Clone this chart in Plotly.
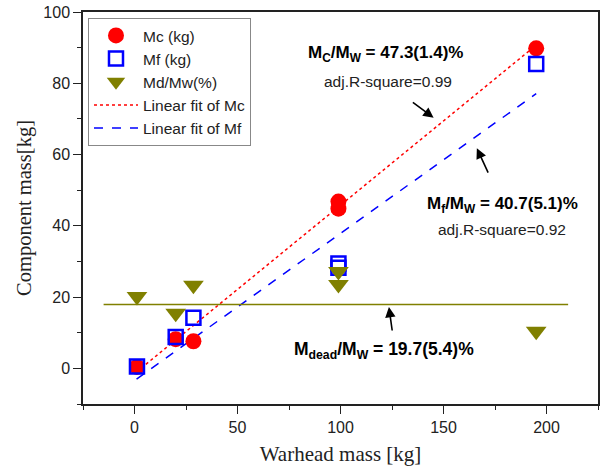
import plotly.graph_objects as go

# Data
warhead = [1.2, 20.0, 28.6, 99.0, 99.0, 195.0]
mc = [0.4, 8.2, 7.6, 46.8, 44.8, 89.8]
mf = [0.5, 8.8, 14.2, 29.4, 28.2, 85.4]
md_mw = [20.2, 15.5, 23.3, 27.2, 23.5, 10.4]

fit_x = [1.0, 195.0]
fit_mc = [-1.0, 90.7]
fit_mf = [-3.0, 77.1]
dead_x = [-15.0, 210.5]
dead_y = [17.9, 17.9]

RED = "#FF0000"
BLUE = "#0000FF"
OLIVE = "#808000"

fig = go.Figure()
fig.add_trace(go.Scatter(x=fit_x, y=fit_mc, mode="lines", name="Linear fit of Mc",
                         line=dict(color=RED, dash="dot", width=1.5), legendgroup="d", legendrank=4))
fig.add_trace(go.Scatter(x=fit_x, y=fit_mf, mode="lines", name="Linear fit of Mf",
                         line=dict(color=BLUE, dash="dash", width=1.5), legendgroup="e", legendrank=5))
fig.add_trace(go.Scatter(x=dead_x, y=dead_y, mode="lines", showlegend=False,
                         line=dict(color=OLIVE, width=1.5)))
fig.add_trace(go.Scatter(x=warhead, y=mc, mode="markers", name="Mc (kg)",
                         marker=dict(symbol="circle", size=16, color=RED, line=dict(width=0)),
                         legendgroup="a", legendrank=1))
fig.add_trace(go.Scatter(x=warhead, y=mf, mode="markers", name="Mf (kg)",
                         marker=dict(symbol="square-open", size=14, color=BLUE, line=dict(width=2.5, color=BLUE)),
                         legendgroup="b", legendrank=2))
fig.add_trace(go.Scatter(x=warhead, y=md_mw, mode="markers", name="Md/Mw(%)",
                         marker=dict(symbol="triangle-down", size=18, color=OLIVE, line=dict(width=0)),
                         legendgroup="c", legendrank=3))

ann_font_b = dict(family="Liberation Sans, Arial", size=17, color="black")
ann_font = dict(family="Liberation Sans, Arial", size=15.5, color="#222222")

annotations = [
    dict(x=121.7, y=88.1, text="<b>M<sub>C</sub>/M<sub>W</sub> = 47.3(1.4)%</b>", showarrow=False, font=ann_font_b),
    dict(x=122.9, y=80.6, text="adj.R-square=0.99", showarrow=False, font=ann_font),
    dict(x=178.6, y=45.9, text="<b>M<sub>f</sub>/M<sub>W</sub> = 40.7(5.1)%</b>", showarrow=False, font=ann_font_b),
    dict(x=178.6, y=39.1, text="adj.R-square=0.92", showarrow=False, font=ann_font),
    dict(x=121.2, y=5.07, text="<b>M<sub>dead</sub>/M<sub>W</sub> = 19.7(5.4)%</b>", showarrow=False,
         font=dict(family="Liberation Sans, Arial", size=17.5, color="black")),
]
arrows = [
    ((134.4, 74.95), (145.2, 70.3)),
    ((172.0, 54.5), (166.2, 61.8)),
    ((125.2, 10.2), (123.5, 17.25)),
]
for (tx, ty), (hx, hy) in arrows:
    annotations.append(dict(x=hx, y=hy, ax=tx, ay=ty, axref="x", ayref="y", xref="x", yref="y",
                            text="", showarrow=True, arrowhead=2, arrowsize=1.3, arrowwidth=1.6,
                            arrowcolor="black"))

axis_common = dict(showline=True, linecolor="#222222", linewidth=1.5, mirror=True,
                   ticks="outside", ticklen=8, tickwidth=1.2, tickcolor="#222222",
                   showgrid=False, zeroline=False, automargin=False,
                   tickfont=dict(family="Liberation Sans, Arial", size=16, color="#222222"))

fig.update_layout(
    width=600, height=468,
    margin=dict(l=83, r=2, t=12, b=64),
    plot_bgcolor="white", paper_bgcolor="white",
    xaxis=dict(range=[-25, 225], tickvals=[0, 50, 100, 150, 200],
               minor=dict(ticks="outside", ticklen=4, tickwidth=1, tickcolor="#222222", dtick=25, tick0=25),
               title=dict(text="Warhead mass [kg]", font=dict(family="Liberation Serif, Times New Roman", size=21, color="#222222"), standoff=11),
               **axis_common),
    yaxis=dict(range=[-10, 100], tickvals=[0, 20, 40, 60, 80, 100],
               minor=dict(ticks="outside", ticklen=4, tickwidth=1, tickcolor="#222222", dtick=10, tick0=10),
               title=dict(text="Component mass[kg]", font=dict(family="Liberation Serif, Times New Roman", size=20.5, color="#222222"), standoff=6),
               **axis_common),
    legend=dict(x=0.0097, y=0.985, xanchor="left", yanchor="top",
                bordercolor="#888888", borderwidth=1, bgcolor="white",
                font=dict(family="Liberation Sans, Arial", size=15.5, color="#222222"),
                traceorder="normal", tracegroupgap=6, itemwidth=44),
    annotations=annotations,
    showlegend=True,
)

# Remove the default page margin so the figure sits at the window's top-left corner
fig.write_html("out.html", config={"displayModeBar": False},
               post_script="document.body.style.margin='0';")
